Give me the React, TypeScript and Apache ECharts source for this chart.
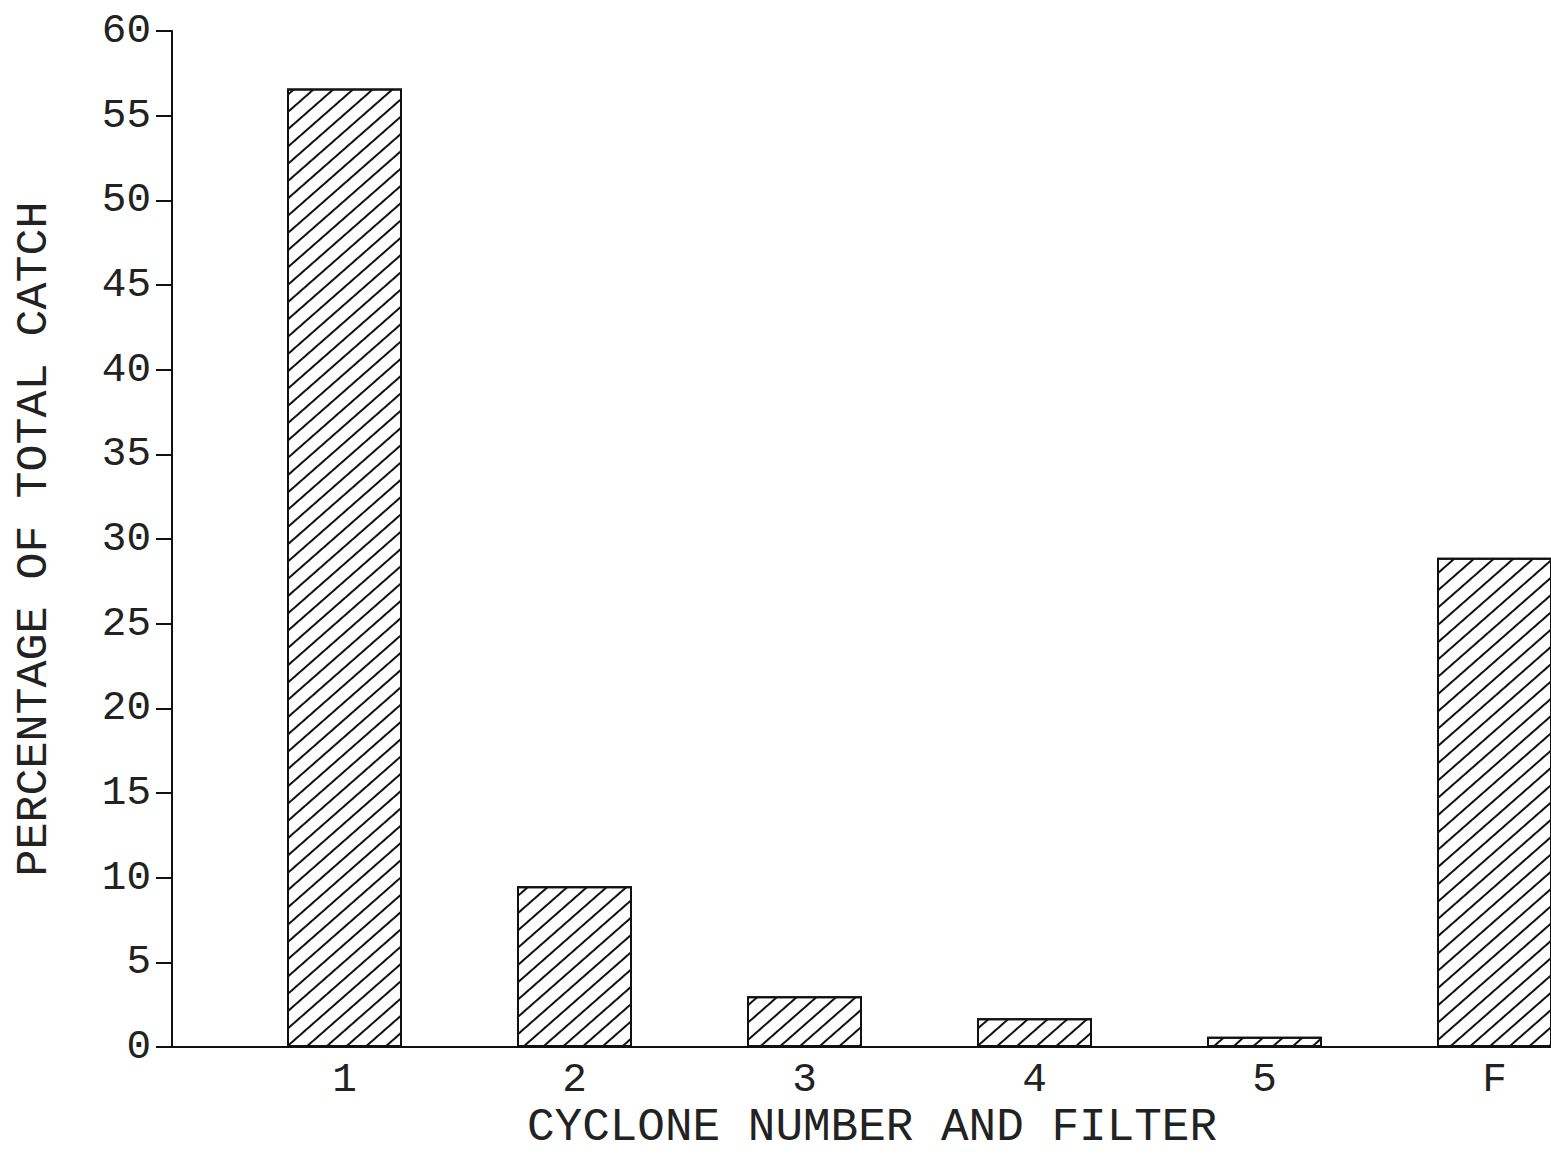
import React, { useEffect, useRef } from "react";
import * as echarts from "echarts";

const categories = ["1", "2", "3", "4", "5", "F"];
const percentages = [56.6, 9.5, 3.0, 1.7, 0.6, 28.9];
const yTicks = [0, 5, 10, 15, 20, 25, 30, 35, 40, 45, 50, 55, 60];

const FONT = "'Liberation Mono', 'DejaVu Sans Mono', monospace";

export default function App() {
  const ref = useRef<HTMLDivElement>(null);
  useEffect(() => {
    if (!ref.current) return;
    const chart = echarts.init(ref.current, undefined, { renderer: "svg" });
    const data = percentages.map((v, i) => [i + 1, v]);
    chart.setOption({
      animation: false,
      backgroundColor: "#fff",
      grid: {
        left: 172,
        top: 31,
        bottom: 110,
        right: -1,
        containLabel: false,
        outerBoundsMode: "none",
      },
      xAxis: {
        type: "value",
        min: 0.25,
        max: 6.25,
        name: "CYCLONE NUMBER AND FILTER",
        nameLocation: "middle",
        nameGap: 61,
        nameTextStyle: {
          fontFamily: FONT,
          fontSize: 46,
          lineHeight: 38,
          color: "#222",
          padding: [0, 0, 0, 20],
        },
        axisLine: { show: true, lineStyle: { color: "#111", width: 2 } },
        axisTick: { show: false },
        splitLine: { show: false },
        axisLabel: {
          customValues: [1, 2, 3, 4, 5, 6],
          formatter: (v: number) => categories[Math.round(v) - 1] ?? "",
          fontFamily: FONT,
          fontSize: 41,
          color: "#222",
          margin: 12,
        },
      },
      yAxis: {
        type: "value",
        min: 0,
        max: 60,
        interval: 5,
        name: "PERCENTAGE OF TOTAL CATCH",
        nameLocation: "middle",
        nameGap: 115,
        nameTextStyle: { fontFamily: FONT, fontSize: 45, color: "#222" },
        axisLine: { show: true, lineStyle: { color: "#111", width: 2 } },
        axisTick: { show: true, length: 16, lineStyle: { color: "#111", width: 2 } },
        splitLine: { show: false },
        axisLabel: {
          formatter: (v: number) => (yTicks.includes(v) ? String(v) : ""),
          fontFamily: FONT,
          fontSize: 41,
          color: "#222",
          margin: 21,
        },
      },
      series: [
        {
          type: "bar",
          data,
          barWidth: 115,
          itemStyle: {
            color: "#fff",
            borderColor: "#111",
            borderWidth: 2,
            decal: {
              symbol: "rect",
              symbolSize: 1,
              dashArrayX: [1, 0],
              dashArrayY: [2, 11],
              rotation: -0.72,
              color: "#111",
            },
          },
        },
      ],
    });
    return () => chart.dispose();
  }, []);
  return <div ref={ref} style={{ width: 1551, height: 1157, position: "absolute", left: 0, top: 0 }} />;
}
